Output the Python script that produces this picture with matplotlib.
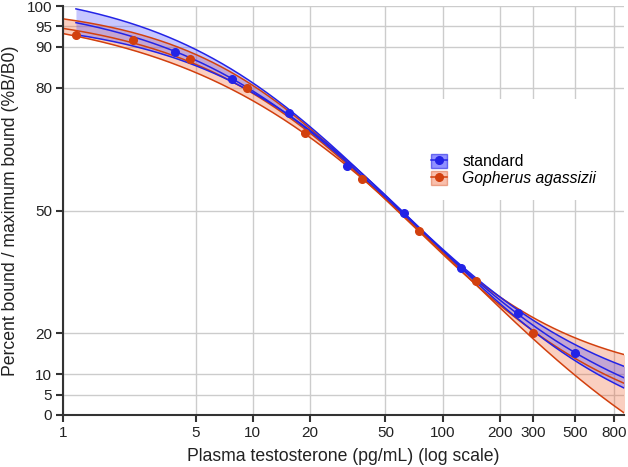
import numpy as np
import matplotlib
matplotlib.use("Agg")
import matplotlib.pyplot as plt
from matplotlib.patches import Patch, Rectangle
from matplotlib.lines import Line2D

plt.rcParams['font.family'] = ['Liberation Sans', 'DejaVu Sans']

# ---- data ----
std_x = [3.9, 7.8, 15.6, 31.25, 62.5, 125, 250, 500]
std_y = [88.8, 82.1, 73.9, 60.9, 49.4, 36.0, 24.9, 15.1]

ga_x = [1.17, 2.34, 4.69, 9.375, 18.75, 37.5, 75, 150, 300]
ga_y = [92.9, 91.8, 87.0, 79.9, 68.9, 57.7, 45.0, 32.8, 20.0]

# confidence band edges
std_band_x = [1.17, 3.9, 15.6, 62.5, 250, 500, 900]
std_upper = [99.8, 90.9, 74.8, 49.8, 25.3, 16.4, 12.7]
std_lower = [92.2, 88.2, 73.4, 48.6, 24.0, 13.7, 6.1]

ga_band_x = [1.0, 2.34, 9.375, 37.5, 150, 300, 500, 900]
ga_upper = [96.8, 93.8, 81.0, 58.6, 33.8, 23.0, 18.3, 15.5]
ga_lower = [92.3, 90.0, 78.6, 56.6, 31.6, 19.5, 10.0, 0.0]

x_ticks = [1, 5, 10, 20, 50, 100, 200, 300, 500, 800]
y_ticks = [0, 5, 10, 20, 50, 80, 90, 95, 100]

BLUE = '#2323e6'
ORANGE = '#d2400e'


def fit4pl(x, y):
    lx = np.log(np.asarray(x, float))
    y = np.asarray(y, float)
    best = None
    Bs = np.linspace(0.3, 2.0, 171)
    lcs = np.linspace(np.log(3), np.log(800), 240)
    for B in Bs:
        g = 1.0 / (1.0 + np.exp(B * (lx[None, :] - lcs[:, None])))
        h = 1.0 - g
        a11 = (g * g).sum(1); a12 = (g * h).sum(1); a22 = (h * h).sum(1)
        b1 = (g * y).sum(1); b2 = (h * y).sum(1)
        det = a11 * a22 - a12 * a12
        A = (b1 * a22 - b2 * a12) / det
        D = (a11 * b2 - a12 * b1) / det
        pred = A[:, None] * g + D[:, None] * h
        r = ((pred - y) ** 2).sum(1)
        i = np.argmin(r)
        if best is None or r[i] < best[0]:
            best = (r[i], A[i], B, np.exp(lcs[i]), D[i])
    return best[1:]


def f4pl(x, p):
    A, B, C, D = p
    return D + (A - D) / (1.0 + (x / C) ** B)


fig = plt.figure(figsize=(6.28, 4.67), dpi=100)
ax = fig.add_axes([63 / 628, 1 - 415 / 467, (624 - 63) / 628, (415 - 6) / 467])
ax.set_xscale('log')
ax.set_xlim(1, 903)
ax.set_ylim(0, 100)

ax.set_xticks(x_ticks)
ax.set_xticklabels([str(v) for v in x_ticks])
ax.xaxis.set_minor_locator(matplotlib.ticker.NullLocator())
ax.set_yticks(y_ticks)
ax.set_yticklabels([str(v) for v in y_ticks])
ax.grid(True, color='#cccccc', lw=1.0, zorder=0)
ax.set_axisbelow(True)
for s in ['top', 'right']:
    ax.spines[s].set_visible(False)
for s in ['left', 'bottom']:
    ax.spines[s].set_color('#333333')
    ax.spines[s].set_linewidth(1.5)
ax.tick_params(axis='both', direction='out', length=5, width=1.5, color='#333333',
               labelsize=11, labelcolor='#222222', pad=3)

# white legend area covering the grid
ax.add_patch(Rectangle(((400 - 63) / 561, (415 - 200) / 409), (610 - 400) / 561, (200 - 99) / 409,
                       transform=ax.transAxes, facecolor='white', edgecolor='none', zorder=0.6))

series = [
    (ga_x, ga_y, ga_band_x, ga_upper, ga_lower, ORANGE, '#f06030', 1.0),
    (std_x, std_y, std_band_x, std_upper, std_lower, BLUE, '#4848ff', 1.17),
]
for xs, ys, bx, up, lo, col, fcol, x0 in series:
    xx = np.logspace(np.log10(x0), np.log10(1000), 500)
    pm = fit4pl(xs, ys)
    pu = fit4pl(bx, up)
    pl = fit4pl(bx, lo)
    yu = f4pl(xx, pu); yl = f4pl(xx, pl); ym = f4pl(xx, pm)
    ax.fill_between(xx, yl, yu, color=fcol, alpha=0.3, lw=0, zorder=1)
    ax.plot(xx, yu, color=col, lw=1.1, zorder=2)
    ax.plot(xx, yl, color=col, lw=1.1, zorder=2)
    ax.plot(xx, ym, color=col, lw=1.1, zorder=2)

ax.plot(ga_x, ga_y, 'o', color=ORANGE, ms=5.5, zorder=4, clip_on=False)
ax.plot(std_x, std_y, 'o', color=BLUE, ms=5.5, zorder=4, clip_on=False)

h_std = (Patch(facecolor='#4848ff', alpha=0.6, edgecolor=BLUE),
         Line2D([], [], color=BLUE, marker='o', ms=5.5, lw=1.1))
h_ga = (Patch(facecolor='#f06030', alpha=0.4, edgecolor=ORANGE),
        Line2D([], [], color=ORANGE, marker='o', ms=5.5, lw=1.1))
leg = ax.legend([h_std, h_ga], ['standard', 'Gopherus agassizii'],
                loc='upper left', bbox_to_anchor=((431 - 63) / 561, (415 - 154) / 409), frameon=False,
                fontsize=11.3, handlelength=1.0, handleheight=1.0, handletextpad=1.0,
                labelspacing=0.1, borderaxespad=0, borderpad=0)
leg.get_texts()[1].set_fontstyle('italic')

ax.set_xlabel('Plasma testosterone (pg/mL) (log scale)', fontsize=12.7, color='#222222', labelpad=6)
ax.set_ylabel('Percent bound / maximum bound (%B/B0)', fontsize=12.7, color='#222222', labelpad=5)

fig.savefig('out.png', dpi=100)
